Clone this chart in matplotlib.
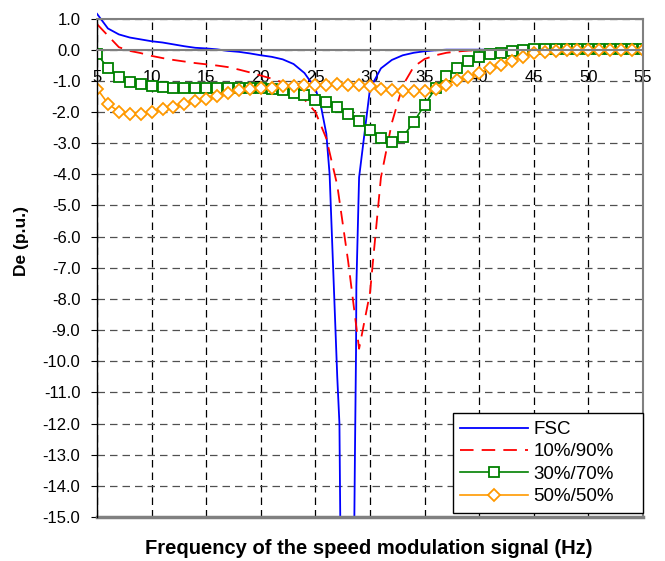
import numpy as np
import matplotlib.pyplot as plt
from matplotlib.transforms import Bbox, TransformedBbox

plt.rcParams['font.family'] = ['Liberation Sans', 'DejaVu Sans']

# frequency (Hz), one point per Hz
freq = list(range(5, 56))

# FSC has extra points around the resonance dip
fsc_freq = [5, 6, 7, 8, 9, 10, 11, 12, 13, 14, 15, 16, 17, 18, 19, 20, 21, 22, 23, 24, 25,
            25.5, 26, 26.3, 27, 27.2, 27.9, 28.62, 28.72, 28.75, 29, 30, 31, 32, 33, 34, 35, 36,
            37, 38, 39, 40, 41, 42, 43, 44, 45, 46, 47, 48, 49, 50, 51, 52, 53, 54, 55]
fsc = [1.15, 0.68, 0.49, 0.39, 0.33, 0.27, 0.23, 0.17, 0.11, 0.06, 0.04, 0.01, -0.04, -0.07,
       -0.12, -0.18, -0.23, -0.31, -0.46, -0.75, -1.25,
       -1.8, -2.7, -4.0, -10.5, -12.0, -40.0, -13.0, -9.7, -7.6, -4.1, -1.25, -0.6, -0.33,
       -0.18, -0.1, -0.05, -0.02,
       0, 0, 0, 0, 0, 0, 0, 0, 0, 0, 0, 0, 0, 0, 0, 0, 0, 0, 0]

r10_90 = [0.82, 0.45, 0.08, -0.04, -0.11, -0.2, -0.27, -0.33, -0.38, -0.43, -0.47, -0.51,
          -0.56, -0.64, -0.73, -0.83, -0.93, -1.05, -1.3, -1.6, -2.0, -2.85, -4.35, -6.8,
          -9.6, -7.8, -4.1, -2.35, -1.15, -0.55, -0.3, -0.18, -0.1, -0.06, -0.03, -0.02,
          -0.01, 0, 0, 0, 0, 0, 0, 0, 0, 0, 0, 0, 0, 0, 0]

r30_70 = [-0.13, -0.6, -0.89, -1.03, -1.11, -1.17, -1.21, -1.23, -1.23, -1.23, -1.23, -1.23,
          -1.23, -1.23, -1.23, -1.24, -1.26, -1.3, -1.39, -1.46, -1.6, -1.68, -1.84, -2.05,
          -2.3, -2.57, -2.82, -2.96, -2.8, -2.33, -1.77, -1.24, -0.86, -0.6, -0.37, -0.25,
          -0.15, -0.1, -0.04, 0.0, 0.03, 0.03, 0.03, 0.03, 0.03, 0.03, 0.03, 0.03, 0.03,
          0.03, 0.03]

r50_50 = [-1.25, -1.73, -2.0, -2.08, -2.08, -2.0, -1.91, -1.83, -1.73, -1.64, -1.57, -1.48,
          -1.39, -1.3, -1.25, -1.22, -1.22, -1.17, -1.16, -1.14, -1.13, -1.12, -1.11, -1.13,
          -1.15, -1.18, -1.25, -1.29, -1.32, -1.33, -1.32, -1.27, -1.12, -0.98, -0.87, -0.74,
          -0.6, -0.48, -0.36, -0.23, -0.12, -0.07, -0.03, -0.01, 0, 0, 0, 0, 0, 0, 0]

xticks = [5, 10, 15, 20, 25, 30, 35, 40, 45, 50, 55]
yticks = list(range(-15, 2))

fig = plt.figure(figsize=(6.65, 5.61), dpi=100)
ax = fig.add_axes([0.1459, 0.0784, 0.8210, 0.8886])

lines = []
lines += ax.plot(fsc_freq, fsc, color='#0000FF', lw=1.3, label='FSC')
lines += ax.plot(freq, r10_90, color='#FF0000', lw=1.3, linestyle=(0, (7.5, 4.5)), label='10%/90%')
lines += ax.plot(freq, r30_70, color='#008000', lw=1.2, marker='s', markersize=7,
                 markerfacecolor='white', markeredgewidth=1.3, label='30%/70%')
lines += ax.plot(freq, r50_50, color='#FF9900', lw=1.2, marker='D', markersize=6.5,
                 markerfacecolor='white', markeredgewidth=1.3, label='50%/50%')

# let the lines run a bit over the top edge, like the original
clip = TransformedBbox(Bbox([[0, 0], [1, 1.03]]), ax.transAxes)
for ln in lines:
    ln.set_clip_box(clip)

ax.set_xlim(5, 55)
ax.set_ylim(-15, 1)
ax.set_xticks(xticks)
ax.set_yticks(yticks)
ax.set_yticklabels(['%.1f' % v for v in yticks])

ax.grid(True, axis='x', color='black', lw=0.9, linestyle=(0, (6, 4)))
ax.grid(True, axis='y', color='#505050', lw=0.9, linestyle=(0, (6, 4)))
ax.set_axisbelow(True)

ax.spines['bottom'].set_position(('data', 0))
for s in ['bottom', 'top', 'right']:
    ax.spines[s].set_color('#808080')
    ax.spines[s].set_linewidth(1.5)
ax.spines['left'].set_color('black')
ax.spines['left'].set_linewidth(1.0)
ax.axhline(-15, color='#808080', lw=2.5, clip_on=False, zorder=2.5)

ax.tick_params(axis='y', direction='out', length=4, labelsize=12, pad=8)
ax.tick_params(axis='x', direction='inout', length=0, labelsize=12, pad=14.5)

# legend box spans x=453..643 px, bottom just above the axes bottom
leg = ax.legend(loc='lower left', bbox_to_anchor=(0.652, 0.0086, 0.348, 0.2),
                mode='expand', borderaxespad=0,
                fontsize=13.5, fancybox=False, framealpha=1, edgecolor='black',
                handlelength=3.6, labelspacing=0.28, borderpad=0.4, handletextpad=0.3)
leg.get_frame().set_linewidth(1.0)

fig.text(369 / 665, 1 - 548 / 561, 'Frequency of the speed modulation signal (Hz)',
         ha='center', va='center', fontsize=14.5, fontweight='bold')
fig.text(22 / 665, 1 - 241 / 561, 'De (p.u.)', ha='center', va='center',
         rotation=90, fontsize=12.5, fontweight='bold')

fig.savefig('out.png', dpi=100)
